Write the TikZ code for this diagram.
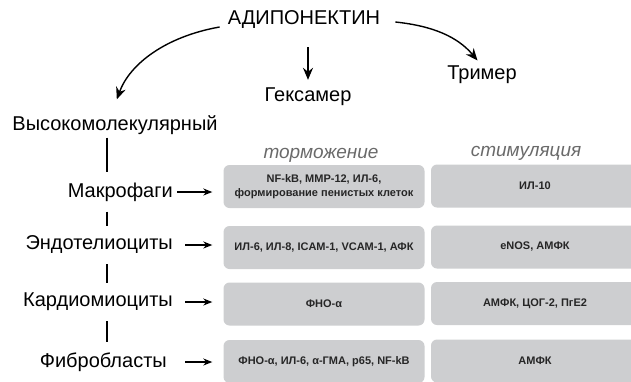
\documentclass[tikz,border=0pt]{standalone}
\usepackage{fontspec}
\setmainfont{Liberation Sans}
\usepackage{tikz}
\usetikzlibrary{arrows.meta}

\definecolor{boxgray}{HTML}{CDCED0}
\definecolor{headgray}{HTML}{6A6A6A}

\begin{document}
\begin{tikzpicture}[x=1pt,y=-1pt]
  \tikzset{title/.style = {inner sep=0pt,font=\fontsize{20}{24}\selectfont}}
  \tikzset{cellname/.style = {anchor=east,inner sep=0pt,font=\fontsize{20}{24}\selectfont}}
  \tikzset{colhead/.style = {inner sep=0pt,text=headgray,font=\fontsize{19}{22}\selectfont\itshape}}
  \tikzset{effect/.style = {shape=rectangle,rounded corners=6pt,fill=boxgray,minimum height=43pt,
      align=center,text=black!85,font=\fontsize{11}{13.5}\selectfont\bfseries}}
  \tikzset{bigarr/.style = {-{Stealth[length=12pt,width=10pt]},line width=1.4pt}}
  \tikzset{arr/.style = {-{Stealth[length=9pt,width=7pt]},line width=1.3pt}}

  \useasboundingbox (0,0) rectangle (631,381);
  \clip (0,0) rectangle (631,381);

	\node[title] (adipo) at (304,20) {АДИПОНЕКТИН};
	\node[title] (hmw) at (115,125) {Высокомолекулярный};
	\node[title] (hexa) at (308,97) {Гексамер};
	\node[title] (trimer) at (482,75) {Тример};

	\node[cellname] (M) at (173,192) {Макрофаги};
	\node[cellname] (E) at (173,245) {Эндотелиоциты};
	\node[cellname] (C) at (173,302) {Кардиомиоциты};
	\node[cellname] (F) at (167,362) {Фибробласты};

	\node[colhead] (inh) at (321,155) {торможение};
	\node[colhead] (stim) at (526,153) {стимуляция};

	\node[effect,minimum width=201pt] (m1) at (324,186.5) {NF-kB, MMP-12, ИЛ-6,\\формирование пенистых клеток};
	\node[effect,minimum width=201pt] (e1) at (324,247.5) {ИЛ-6, ИЛ-8, ICAM-1, VCAM-1, АФК};
	\node[effect,minimum width=201pt] (c1) at (324,304) {ФНО-α};
	\node[effect,minimum width=201pt] (f1) at (324,361.5) {ФНО-α, ИЛ-6, α-ГМА, p65, NF-kB};

	\node[effect,minimum width=208pt] (m2) at (535,186) {ИЛ-10};
	\node[effect,minimum width=208pt] (e2) at (535,247) {eNOS, АМФК};
	\node[effect,minimum width=208pt] (c2) at (535,303.5) {АМФК, ЦОГ-2, ПгЕ2};
	\node[effect,minimum width=208pt] (f2) at (535,361) {АМФК};

	\coordinate (spine) at (107,0);

	% forms of adiponectin
	\draw[bigarr,shorten >=17pt] ([shift={(-8,7)}]adipo.west) to[out=190,in=70] (hmw.north -| 111,0);
	\draw[bigarr,shorten <=18pt,shorten >=8pt] (hexa.north |- adipo.south) -- (hexa.north);
	\draw[bigarr,shorten >=7pt] ([shift={(15,2)}]adipo.east) to[out=-6,in=130] (trimer.north);

	% cell types
	\draw[line width=1.3pt,shorten <=3pt,shorten >=10pt] (hmw.south -| spine) -- (M.north -| spine);
       \foreach \from/\to in {M/E, E/C, C/F}
    \draw[line width=1.3pt,shorten <=10pt,shorten >=10pt] (\from.south -| spine) -- (\to.north -| spine);

       \foreach \from/\to/\gap in {M/m1/4, E/e1/12, C/c1/12, F/f1/18}
    \draw[arr,shorten <=\gap pt,shorten >=11pt] (\from.east) -- (\from.east -| \to.west);
\end{tikzpicture}
\end{document}
